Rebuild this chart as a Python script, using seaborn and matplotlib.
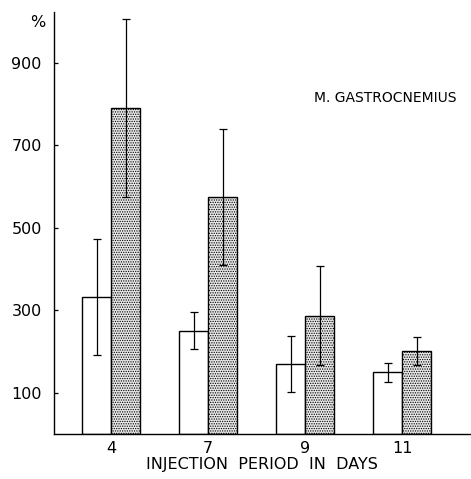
import matplotlib
matplotlib.use("Agg")
import matplotlib.pyplot as plt
import numpy as np
import pandas as pd
import seaborn as sns

# Values
days = ["4", "7", "9", "11"]
control = [332, 250, 170, 150]
control_err = [140, 45, 68, 23]
treated = [790, 575, 286, 201]
treated_err = [215, 165, 120, 33]
yticks = [100, 300, 500, 700, 900]

df = pd.DataFrame({
    "day": days * 2,
    "value": control + treated,
    "group": ["control"] * 4 + ["treated"] * 4,
})

sns.set_theme(style="ticks")
plt.rcParams["font.family"] = ["DejaVu Sans"]
plt.rcParams["hatch.linewidth"] = 0.6
plt.rcParams["text.color"] = "black"
plt.rcParams["xtick.color"] = "black"
plt.rcParams["ytick.color"] = "black"
plt.rcParams["axes.labelcolor"] = "black"

fig = plt.figure(figsize=(4.71, 4.79), dpi=100)
ax = fig.add_axes([0.115, 0.094, 0.883, 0.881])

sns.barplot(
    data=df, x="day", y="value", hue="group", order=days,
    hue_order=["control", "treated"], palette=["white", "#e8e8e8"],
    width=0.6, gap=0, errorbar=None, edgecolor="black", linewidth=1.0,
    legend=False, ax=ax,
)

# stipple for the second series, error bars through bar centres
errs = control_err + treated_err
vals = control + treated
for i, p in enumerate(ax.patches[:8]):
    if i >= 4:
        p.set_hatch(".......")
    cx = p.get_x() + p.get_width() / 2
    ax.errorbar(cx, vals[i], yerr=errs[i], color="black", lw=0.9,
                capsize=3, capthick=0.9, zorder=5)

ax.set_ylim(0, 1023)
ax.set_xlim(-0.59, 3.70)
ax.set_yticks(yticks)
ax.set_yticklabels([str(t) for t in yticks], fontsize=11.5)
ax.tick_params(axis="y", direction="in", length=3, width=0.9, pad=9)
ax.tick_params(axis="x", length=0, labelsize=11.5, pad=5)
ax.set_xlabel("INJECTION  PERIOD  IN  DAYS", fontsize=11.5, labelpad=0)
ax.xaxis.set_label_coords(0.5, -0.055)
ax.set_ylabel("")
sns.despine(ax=ax)
for s in ["left", "bottom"]:
    ax.spines[s].set_linewidth(1.0)
    ax.spines[s].set_color("black")

ax.text(-0.02, 0.975, "%", transform=ax.transAxes, ha="right", va="center",
        fontsize=11.5)
ax.text(0.968, 0.795, "M. GASTROCNEMIUS", transform=ax.transAxes,
        ha="right", va="center", fontsize=10)

fig.savefig("out.png", dpi=100)
